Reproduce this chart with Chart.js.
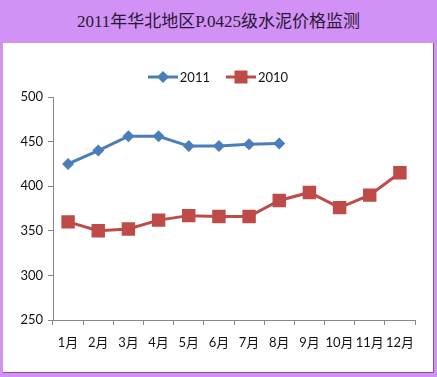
<!DOCTYPE html>
<html>
<head>
<meta charset="utf-8">
<script src="https://cdn.jsdelivr.net/npm/chart.js@4"></script>
<style>
  html, body { margin: 0; padding: 0; }
  body { width: 437px; height: 377px; background: #d291f5; position: relative; overflow: hidden; }
  .title {
    position: absolute; left: 0; top: 13px; width: 437px; height: 18px;
    display: flex; align-items: center; justify-content: center; color: #2b1838;
    font: 17px/18px "Liberation Serif", "Noto Sans CJK SC", serif;
  }
  .panel {
    position: absolute; left: 3px; top: 43px; width: 430px; height: 329px;
    background: #fff; border-right: 1px solid #8a55a8; border-bottom: 1px solid #8a55a8;
  }
  .legend {
    position: absolute; left: 0; top: 26px; width: 430px; text-align: center;
    font: 13px Lato, "Noto Sans CJK SC", sans-serif; color: #111;
  }
  .legend span { display: inline-flex; align-items: center; margin: 0 8px; }
  .legend svg { margin-right: 2px; }
  canvas { position: absolute; left: 0; top: 0; }
</style>
</head>
<body>
<div class="title">2011年华北地区P.0425级水泥价格监测</div>
<div class="panel">
  <canvas id="chart" width="430" height="329"></canvas>
  <div class="legend" id="legend"></div>
</div>
<script>
  const months = ['1月', '2月', '3月', '4月', '5月', '6月', '7月', '8月', '9月', '10月', '11月', '12月'];
  const series2011 = [425, 440, 456, 456, 445, 445, 447, 448];
  const series2010 = [360, 350, 352, 362, 367, 366, 366, 384, 393, 376, 390, 415];
  const yTicks = [250, 300, 350, 400, 450, 500];

  const blue = '#4a7ebb';
  const red = '#be4b48';
  const axisGray = '#868686';
  const font = 'Lato, "Noto Sans CJK SC", sans-serif';

  // Leyenda en HTML: línea + marcador como en Excel.
  const legend = document.getElementById('legend');
  legend.innerHTML =
    '<span><svg width="30" height="14"><line x1="0" y1="7" x2="30" y2="7" stroke="' + blue + '" stroke-width="3"/>' +
    '<path d="M15 1 L21 7 L15 13 L9 7 Z" fill="' + blue + '"/></svg>2011</span>' +
    '<span><svg width="30" height="14"><line x1="0" y1="7" x2="30" y2="7" stroke="' + red + '" stroke-width="3"/>' +
    '<rect x="8.5" y="0.5" width="13" height="13" fill="' + red + '"/></svg>2010</span>';

  new Chart(document.getElementById('chart'), {
    type: 'line',
    data: {
      labels: months,
      datasets: [
        {
          label: '2011',
          data: series2011,
          borderColor: blue,
          backgroundColor: blue,
          borderWidth: 3,
          pointStyle: 'rectRot',
          pointRadius: 6,
          pointBorderWidth: 0,
          tension: 0,
        },
        {
          label: '2010',
          data: series2010,
          borderColor: red,
          backgroundColor: red,
          borderWidth: 3,
          pointStyle: 'rect',
          pointRadius: 9.5,
          pointBorderWidth: 0,
          tension: 0,
        },
      ],
    },
    options: {
      responsive: false,
      animation: false,
      layout: { padding: { top: 54, right: 18, left: 0, bottom: 0 } },
      plugins: {
        legend: { display: false },
        tooltip: { enabled: false },
      },
      scales: {
        x: {
          offset: true,
          grid: {
            offset: true,
            drawOnChartArea: false,
            drawTicks: true,
            tickLength: 5,
            color: axisGray,
          },
          border: { display: true, color: axisGray, width: 1 },
          ticks: {
            color: '#111',
            font: { family: font, size: 13 },
            padding: 10,
            maxRotation: 0,
            autoSkip: false,
          },
          afterFit: function (scale) { scale.height = 52; },
        },
        y: {
          min: yTicks[0],
          max: yTicks[yTicks.length - 1],
          afterBuildTicks: function (scale) {
            scale.ticks = yTicks.map(function (v) { return { value: v }; });
          },
          grid: {
            drawOnChartArea: false,
            drawTicks: true,
            tickLength: 5,
            color: axisGray,
          },
          border: { display: true, color: axisGray, width: 1 },
          ticks: {
            color: '#111',
            font: { family: font, size: 13 },
            padding: 5,
          },
          afterFit: function (scale) { scale.width = 50; },
        },
      },
    },
  });
</script>
</body>
</html>
